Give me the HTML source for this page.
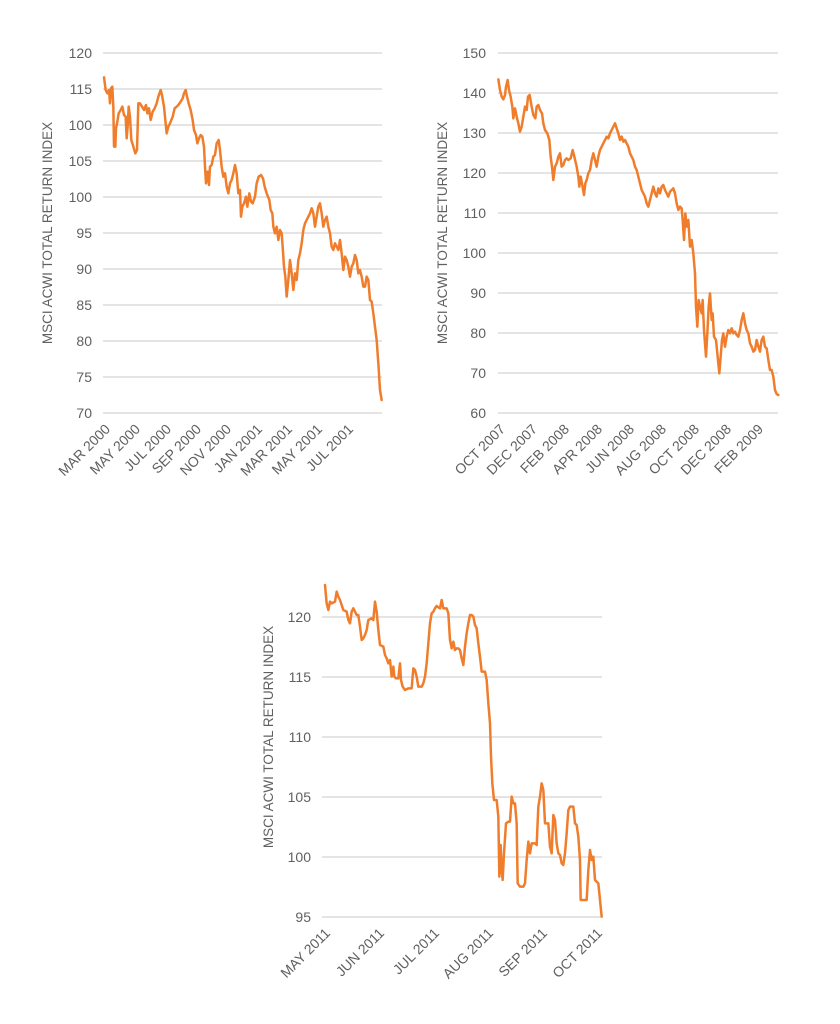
<!DOCTYPE html>
<html><head><meta charset="utf-8"><style>
html,body{margin:0;padding:0;background:#fff;}
svg{display:block;}
text{font-family:"Liberation Sans",sans-serif;fill:#606060;}
</style></head><body>
<svg width="840" height="1024" viewBox="0 0 840 1024" xmlns="http://www.w3.org/2000/svg">
<g stroke="#c8c8c8" stroke-width="1">
<line x1="103" x2="382" y1="53" y2="53"/><line x1="103" x2="382" y1="89" y2="89"/><line x1="103" x2="382" y1="125" y2="125"/><line x1="103" x2="382" y1="161" y2="161"/><line x1="103" x2="382" y1="197" y2="197"/><line x1="103" x2="382" y1="233" y2="233"/><line x1="103" x2="382" y1="269" y2="269"/><line x1="103" x2="382" y1="305" y2="305"/><line x1="103" x2="382" y1="341" y2="341"/><line x1="103" x2="382" y1="377" y2="377"/><line x1="103" x2="382" y1="413" y2="413"/>
<line x1="498" x2="778" y1="53" y2="53"/><line x1="498" x2="778" y1="93" y2="93"/><line x1="498" x2="778" y1="133" y2="133"/><line x1="498" x2="778" y1="173" y2="173"/><line x1="498" x2="778" y1="213" y2="213"/><line x1="498" x2="778" y1="253" y2="253"/><line x1="498" x2="778" y1="293" y2="293"/><line x1="498" x2="778" y1="333" y2="333"/><line x1="498" x2="778" y1="373" y2="373"/><line x1="498" x2="778" y1="413" y2="413"/>
<line x1="322" x2="602" y1="617" y2="617"/><line x1="322" x2="602" y1="677" y2="677"/><line x1="322" x2="602" y1="737" y2="737"/><line x1="322" x2="602" y1="797" y2="797"/><line x1="322" x2="602" y1="857" y2="857"/><line x1="322" x2="602" y1="917" y2="917"/>
</g>
<g font-size="14" text-anchor="end">
<text x="92" y="58">120</text><text x="92" y="94">115</text><text x="92" y="130">100</text><text x="92" y="166">105</text><text x="92" y="202">100</text><text x="92" y="238">95</text><text x="92" y="274">90</text><text x="92" y="310">85</text><text x="92" y="346">80</text><text x="92" y="382">75</text><text x="92" y="418">70</text>
<text x="486" y="58">150</text><text x="486" y="98">140</text><text x="486" y="138">130</text><text x="486" y="178">120</text><text x="486" y="218">110</text><text x="486" y="258">100</text><text x="486" y="298">90</text><text x="486" y="338">80</text><text x="486" y="378">70</text><text x="486" y="418">60</text>
<text x="311" y="622">120</text><text x="311" y="682">115</text><text x="311" y="742">110</text><text x="311" y="802">105</text><text x="311" y="862">100</text><text x="311" y="922">95</text>
</g>
<g font-size="13.5" text-anchor="middle">
<text transform="translate(52,233) rotate(-90)">MSCI ACWI TOTAL RETURN INDEX</text>
<text transform="translate(447,233) rotate(-90)">MSCI ACWI TOTAL RETURN INDEX</text>
<text transform="translate(273,737) rotate(-90)">MSCI ACWI TOTAL RETURN INDEX</text>
</g>
<g font-size="14" text-anchor="end">
<text transform="translate(111,430) rotate(-45)">MAR 2000</text><text transform="translate(141,430) rotate(-45)">MAY 2000</text><text transform="translate(172,430) rotate(-45)">JUL 2000</text><text transform="translate(202,430) rotate(-45)">SEP 2000</text><text transform="translate(232,430) rotate(-45)">NOV 2000</text><text transform="translate(263,430) rotate(-45)">JAN 2001</text><text transform="translate(293,430) rotate(-45)">MAR 2001</text><text transform="translate(323,430) rotate(-45)">MAY 2001</text><text transform="translate(354,430) rotate(-45)">JUL 2001</text>
<text transform="translate(506,430) rotate(-45)">OCT 2007</text><text transform="translate(538,430) rotate(-45)">DEC 2007</text><text transform="translate(570,430) rotate(-45)">FEB 2008</text><text transform="translate(603,430) rotate(-45)">APR 2008</text><text transform="translate(635,430) rotate(-45)">JUN 2008</text><text transform="translate(667,430) rotate(-45)">AUG 2008</text><text transform="translate(700,430) rotate(-45)">OCT 2008</text><text transform="translate(732,430) rotate(-45)">DEC 2008</text><text transform="translate(764,430) rotate(-45)">FEB 2009</text>
<text transform="translate(331,934) rotate(-45)">MAY 2011</text><text transform="translate(385,934) rotate(-45)">JUN 2011</text><text transform="translate(440,934) rotate(-45)">JUL 2011</text><text transform="translate(494,934) rotate(-45)">AUG 2011</text><text transform="translate(548,934) rotate(-45)">SEP 2011</text><text transform="translate(603,934) rotate(-45)">OCT 2011</text>
</g>
<g fill="none" stroke="#f07d2c" stroke-width="7.5" stroke-linejoin="round" stroke-linecap="round">
<polyline transform="translate(30,40) scale(0.33333)" points="222,112 227,150 232,160 237,150 240,190 243,145 247,140 250,200 252,320 256,320 258,265 262,245 266,220 272,210 277,200 282,225 287,230 290,295 293,260 296,200 300,230 304,300 310,320 316,340 321,330 325,190 330,190 336,200 342,210 348,195 352,220 357,205 362,240 368,215 374,205 380,190 385,170 392,150 396,165 402,200 410,280 415,260 420,250 428,230 434,205 440,200 445,195 452,185 458,175 462,160 467,150 470,165 476,190 482,210 488,240 492,270 498,285 502,310 507,295 512,285 517,290 522,320 525,380 528,430 533,395 537,435 540,380 545,375 550,350 555,345 560,310 566,300 570,330 575,380 580,410 585,400 590,440 595,460 600,430 605,420 610,400 615,375 620,400 625,460 630,450 633,530 637,500 642,490 648,470 652,500 658,460 663,485 668,490 675,470 680,430 686,410 693,405 699,415 704,440 710,460 714,470 718,480 722,510 727,520 730,560 735,580 740,560 745,600 750,570 755,580 758,620 762,680 766,710 770,770 775,720 780,660 785,700 790,750 795,700 800,720 805,660 810,640 815,610 820,570 825,550 830,540 835,530 840,520 845,505 850,520 855,560 860,530 865,500 870,490 875,520 880,560 885,540 890,530 895,560 900,580 905,620 910,630 915,610 920,620 925,630 930,600 935,640 940,690 945,650 950,660 955,680 960,710 965,680 970,670 975,645 980,660 985,700 990,690 995,710 1000,740 1005,740 1010,710 1015,720 1020,780 1025,785 1030,820 1035,860 1040,900 1045,970 1050,1050 1055,1080"/>
<polyline transform="translate(430,40) scale(0.33333)" points="205,118 210,150 215,170 220,178 225,165 228,140 233,120 237,150 242,170 247,200 250,235 255,205 260,230 265,250 270,275 275,260 280,230 285,200 290,210 294,170 299,165 304,195 310,225 316,235 320,200 325,195 330,210 336,220 340,250 345,270 352,280 358,300 362,350 366,380 370,420 375,380 380,370 385,350 390,340 395,380 400,375 405,360 410,355 415,360 422,355 428,330 433,350 440,380 445,410 448,440 452,410 456,430 462,465 466,430 470,420 475,400 480,390 485,360 490,340 495,360 500,380 505,350 510,330 515,320 520,310 525,300 530,290 535,295 540,280 545,270 550,260 555,250 560,265 565,280 570,300 575,290 580,305 585,300 590,310 595,320 600,340 605,350 610,360 615,380 620,390 625,410 630,430 635,450 640,460 645,470 650,490 655,500 660,480 665,460 670,440 675,460 680,470 685,445 690,460 695,440 700,435 705,450 710,460 715,470 720,455 725,450 730,445 735,460 740,490 745,510 750,500 755,505 758,540 762,600 766,520 770,560 775,540 780,620 785,600 790,640 795,700 798,800 802,860 806,780 810,800 815,820 818,780 822,870 828,950 832,880 836,800 840,760 845,840 848,820 852,890 858,900 863,950 868,1000 872,950 876,900 880,880 885,920 890,890 895,870 900,880 905,865 910,880 915,875 920,885 925,890 930,870 935,840 940,820 945,850 950,870 955,880 960,910 965,920 970,935 975,930 980,900 985,920 990,935 995,900 1000,890 1005,920 1010,925 1015,960 1020,990 1025,990 1030,1010 1035,1050 1040,1062 1045,1065"/>
<polyline transform="translate(250,570) scale(0.33333)" points="225,45 230,100 235,120 240,95 245,100 255,95 260,65 265,80 270,90 275,105 280,120 290,125 295,150 300,160 305,125 310,115 315,125 320,135 325,135 330,170 335,210 340,205 345,195 350,180 355,150 365,145 370,150 375,95 380,125 385,180 390,225 400,230 405,255 410,265 415,280 420,270 425,320 430,290 433,320 438,325 445,325 450,280 453,330 458,350 465,360 475,355 485,355 490,295 495,300 500,320 505,350 515,350 520,340 525,320 530,280 535,220 540,160 545,130 550,125 555,115 560,108 565,112 570,115 575,90 580,115 590,115 595,130 600,210 605,235 610,215 615,240 620,235 625,235 630,240 635,265 640,285 645,230 650,190 655,160 660,135 665,135 670,140 675,165 680,175 685,220 690,260 695,305 705,305 710,330 715,400 720,460 723,560 727,640 732,690 740,690 745,740 748,920 752,825 755,900 758,930 762,850 768,760 775,755 780,755 785,680 790,700 795,700 800,760 803,940 810,950 820,950 825,940 830,870 835,815 840,850 845,820 855,820 860,825 865,710 870,680 875,640 880,660 885,760 890,760 895,760 900,830 905,850 910,735 915,750 920,820 925,850 930,855 935,880 940,885 945,850 950,790 955,720 960,710 970,710 975,760 980,765 985,800 990,870 992,990 1005,990 1010,990 1015,900 1020,840 1025,870 1030,860 1035,930 1045,940 1050,990 1055,1040"/>
</g>
</svg>
</body></html>
